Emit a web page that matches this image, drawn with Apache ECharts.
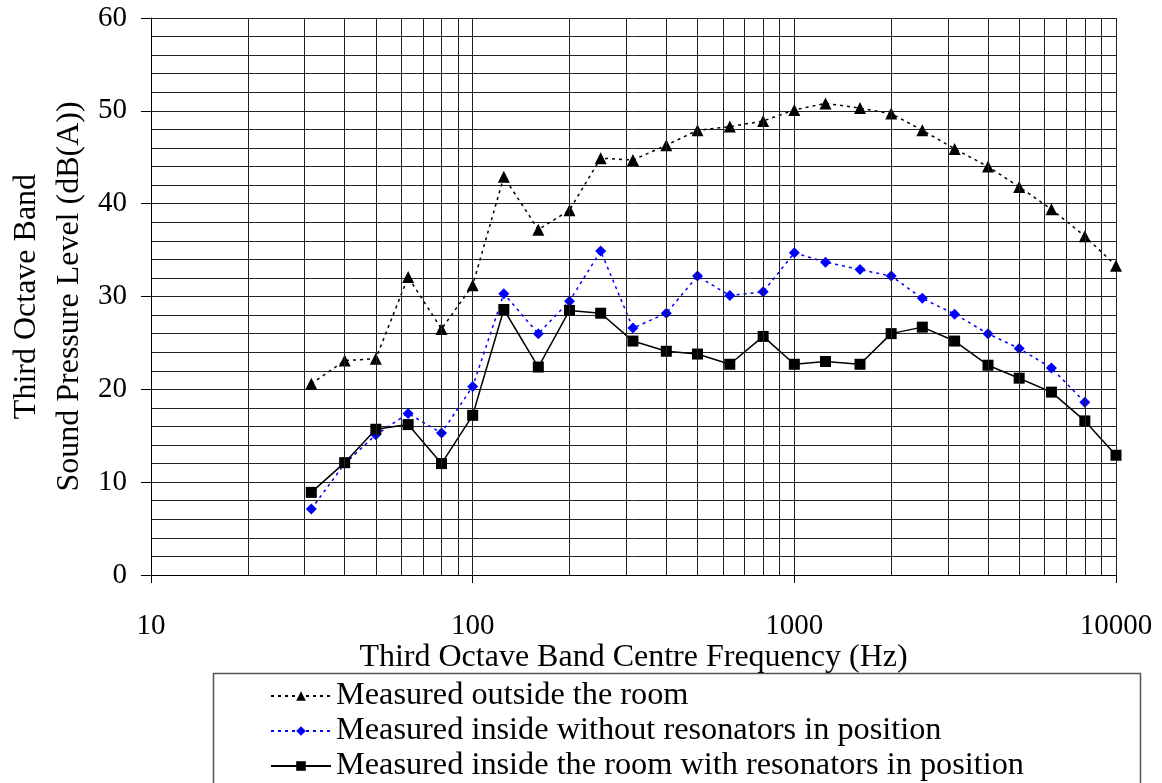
<!DOCTYPE html>
<html>
<head>
    <meta charset="utf-8">
    <script src="https://cdn.jsdelivr.net/npm/echarts@6/dist/echarts.min.js"></script>
</head>
<body style="margin:0">
<div id="main" style="position:absolute;top:0;left:0;width:1162px;height:783px;"></div>
<script type="text/javascript">
    // third octave band centre frequencies (Hz)
    var freqs = [31.5, 40, 50, 63, 80, 100, 125, 160, 200, 250, 315, 400, 500, 630, 800,
        1000, 1250, 1600, 2000, 2500, 3150, 4000, 5000, 6300, 8000, 10000];

    var outside = [20.6, 23.1, 23.3, 32.1, 26.5, 31.2, 42.9, 37.2, 39.3, 44.9, 44.7, 46.3, 47.9, 48.3, 48.9,
        50.1, 50.8, 50.3, 49.7, 47.9, 45.9, 44.0, 41.8, 39.4, 36.5, 33.3];
    var withoutRes = [7.1, 12.0, 15.1, 17.4, 15.3, 20.3, 30.3, 26.0, 29.5, 34.9, 26.6, 28.2, 32.2, 30.1, 30.5,
        34.7, 33.7, 32.9, 32.2, 29.8, 28.1, 26.0, 24.4, 22.3, 18.6];
    var withRes = [8.9, 12.1, 15.7, 16.2, 12.0, 17.2, 28.6, 22.4, 28.5, 28.2, 25.2, 24.1, 23.8, 22.7, 25.7,
        22.7, 23.0, 22.7, 26.0, 26.7, 25.2, 22.6, 21.2, 19.7, 16.6, 12.9];

    // minor vertical grid positions of the log axis
    var minorFreqs = [20, 30, 40, 50, 60, 70, 80, 90, 200, 300, 400, 500, 600, 700, 800, 900,
        2000, 3000, 4000, 5000, 6000, 7000, 8000, 9000];

    var names = ['Measured outside the room',
        'Measured inside without resonators in position',
        'Measured inside the room with resonators in position'];

    function pairs(vals) {
        return vals.map(function (v, i) { return [freqs[i], v]; });
    }

    var font = 'Liberation Serif, Times New Roman, serif';
    var gridColor = '#222';

    var myChart = echarts.init(document.getElementById('main'));
    myChart.setOption({
        animation: false,
        backgroundColor: '#fff',
        textStyle: {fontFamily: font, color: '#000'},
        grid: {left: 151, right: 46, top: 18, bottom: 208, outerBoundsMode: 'none', containLabel: false},
        xAxis: {
            type: 'log',
            logBase: 10,
            min: 10,
            max: 10000,
            name: 'Third Octave Band Centre Frequency (Hz)',
            nameLocation: 'middle',
            nameGap: 67,
            nameMoveOverlap: false,
            nameTextStyle: {fontFamily: font, fontSize: 32, color: '#000'},
            axisLine: {lineStyle: {color: '#000', width: 1}},
            axisTick: {show: true, length: 8, lineStyle: {color: '#000'}},
            axisLabel: {
                fontFamily: font, fontSize: 29, color: '#000', margin: 37,
                formatter: function (v) { return String(Math.round(v)); }
            },
            splitLine: {show: true, lineStyle: {color: gridColor, width: 1}}
        },
        yAxis: {
            type: 'value',
            min: 0,
            max: 60,
            interval: 10,
            name: 'Third Octave Band\nSound Pressure Level (dB(A))',
            nameLocation: 'middle',
            nameGap: 60,
            nameMoveOverlap: false,
            nameTextStyle: {fontFamily: font, fontSize: 32, lineHeight: 43, color: '#000'},
            axisLine: {show: true, lineStyle: {color: '#000', width: 1}},
            axisTick: {show: true, length: 10, lineStyle: {color: '#000'}},
            axisLabel: {fontFamily: font, fontSize: 29, color: '#000', margin: 24},
            splitLine: {show: true, lineStyle: {color: gridColor, width: 1}},
            minorTick: {show: false, splitNumber: 5},
            minorSplitLine: {show: true, lineStyle: {color: gridColor, width: 1}}
        },
        legend: {
            data: names,
            orient: 'vertical',
            left: 270,
            top: 680,
            height: 110,
            itemWidth: 60,
            itemHeight: 12,
            itemGap: 3,
            padding: 0,
            textStyle: {fontFamily: font, fontSize: 32.3, lineHeight: 32, color: '#000'}
        },
        graphic: [{
            type: 'rect',
            shape: {x: 213.5, y: 673.5, width: 927, height: 130},
            style: {fill: 'none', stroke: '#555', lineWidth: 1.5},
            silent: true
        }],
        series: [
            {
                name: 'minor grid',
                type: 'line',
                data: [],
                z: 1,
                silent: true,
                markLine: {
                    silent: true,
                    symbol: ['none', 'none'],
                    label: {show: false},
                    lineStyle: {color: gridColor, width: 1, type: 'solid'},
                    emphasis: {disabled: true},
                    data: minorFreqs.map(function (f) { return {xAxis: f}; })
                }
            },
            {
                name: names[0],
                type: 'line',
                data: pairs(outside),
                symbol: 'triangle',
                symbolSize: 12,
                itemStyle: {color: '#000'},
                lineStyle: {color: '#000', width: 1.5, type: [3, 4]},
                z: 3
            },
            {
                name: names[1],
                type: 'line',
                data: pairs(withoutRes),
                symbol: 'diamond',
                symbolSize: 11,
                itemStyle: {color: '#0000ff'},
                lineStyle: {color: '#0000ff', width: 1.5, type: [3, 4]},
                z: 3
            },
            {
                name: names[2],
                type: 'line',
                data: pairs(withRes),
                symbol: 'rect',
                symbolSize: 11,
                itemStyle: {color: '#000'},
                lineStyle: {color: '#000', width: 1.5, type: 'solid'},
                z: 4
            }
        ]
    });
</script>
</body>
</html>
